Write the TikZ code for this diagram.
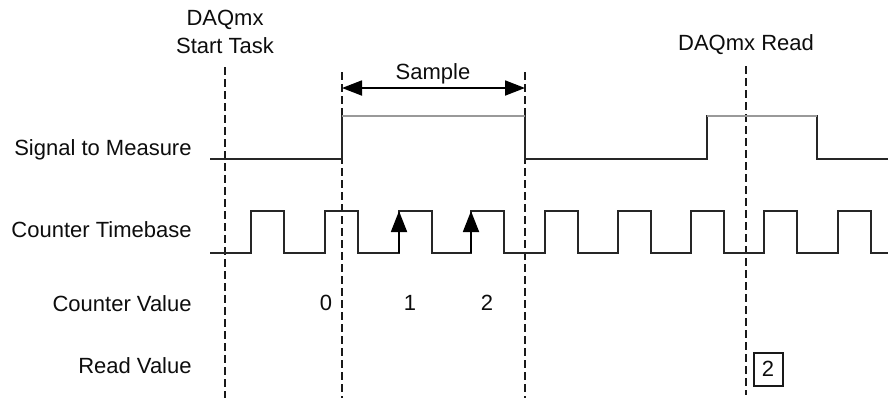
\documentclass[tikz,border=0pt]{standalone}
\usepackage{fontspec}
\setmainfont{Liberation Sans}
\usetikzlibrary{arrows.meta}
\begin{document}
\begin{tikzpicture}[x=.5pt, y=-.5pt, every node/.style={font=\fontsize{11}{14}\selectfont, inner sep=0pt, text=black!95},
    timemark/.style={dashed, dash pattern=on 4pt off 2pt, line width=.9pt, black!90},
    wave/.style={line width=.9pt, black!85},
    high/.style={line width=1.3pt, black!40},
    edge/.style={-{Triangle[length=10.5pt,width=8pt]}, line width=.9pt, black}]
  \useasboundingbox (0,0) rectangle (888,398);
  \coordinate (T0)  at (225,67);
  \coordinate (T0b) at (225,398);
  \coordinate (T1)  at (342,72);
  \coordinate (T1b) at (342,398);
  \coordinate (T2)  at (525,72);
  \coordinate (T2b) at (525,398);
  \coordinate (T3)  at (746,66);
  \coordinate (T3b) at (746,395);
  \coordinate (S1)  at (342,88);
  \coordinate (S2)  at (525,88);
  \coordinate (E1)  at (399,253);
  \coordinate (E1t) at (399,211);
  \coordinate (E2)  at (471,253);
  \coordinate (E2t) at (471,211);

  \draw[timemark] (T0)--(T0b) (T1)--(T1b) (T2)--(T2b) (T3)--(T3b);

  % signal to measure
  \draw[wave] (210,159)--(342,159)--(342,116)--(525,116)--(525,159)--(707,159)--(707,116)--(817,116)--(817,159)--(888,159);
  \draw[high] (342,116)--(525,116) (707,116)--(817,116);

  % counter timebase
  \draw[wave] (210,253) foreach \r in {251,325,399,471,545,618,691,764,838} {
    -- (\r,253) -- (\r,211) -- (\r+33,211) -- (\r+33,253) } -- (888,253);
  \draw[edge] (E1)--(E1t);
  \draw[edge] (E2)--(E2t);

  \draw[{Triangle[length=10pt,width=7.5pt]}-{Triangle[length=10pt,width=7.5pt]}, line width=.9pt, black] (S1)--(S2);

  \node[align=center] (start) at (225,32) {DAQmx\\Start Task};
  \node (read) at (746,45) {DAQmx Read};
  \node (sample) at (433,74) {Sample};

  \node[anchor=east] (lsig) at (192,150) {Signal to Measure};
  \node[anchor=east] (ltb)  at (192,230) {Counter Timebase};
  \node[anchor=east] (lcv)  at (192,304) {Counter Value};
  \node[anchor=east] (lrv)  at (192,366) {Read Value};

  \node (c0) at (326,303) {0};
  \node (c1) at (410,303) {1};
  \node (c2) at (487,303) {2};
  \node[draw=black!90, line width=1pt, minimum width=14.5pt, minimum height=16.5pt] (rv) at (768,369) {2};
\end{tikzpicture}
\end{document}
